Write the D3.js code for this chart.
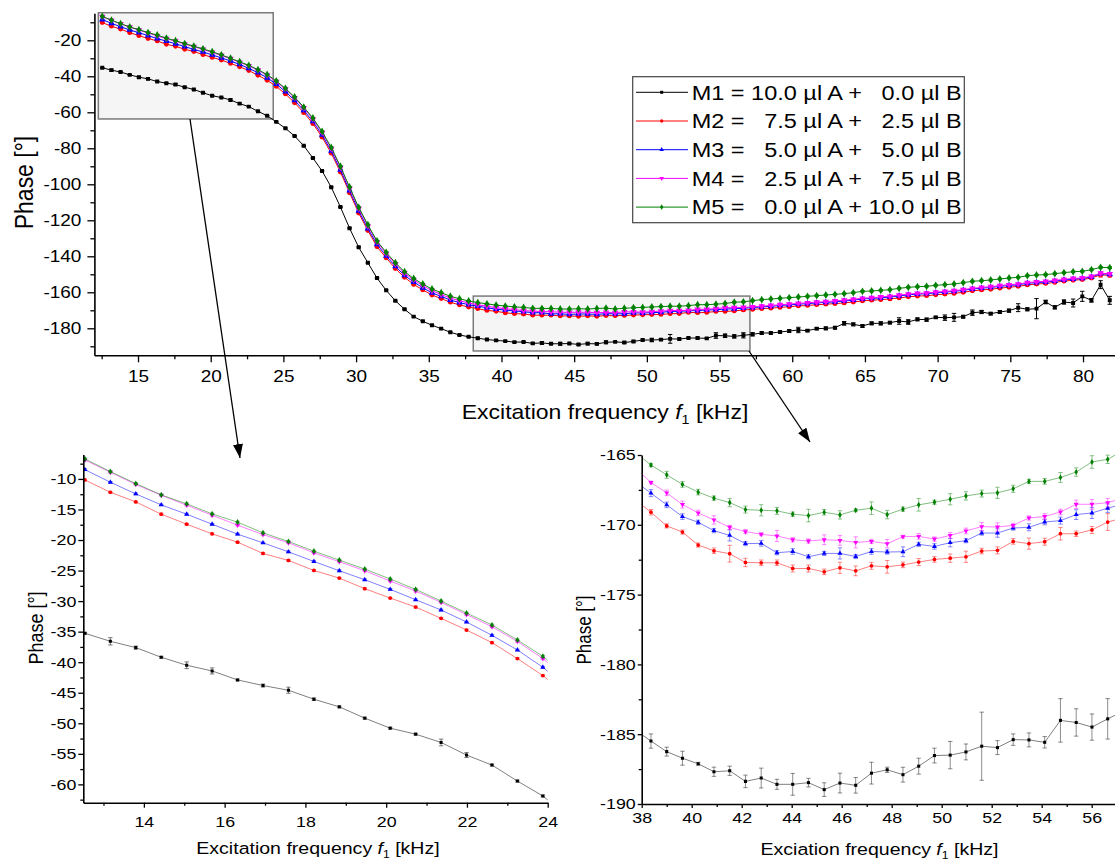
<!DOCTYPE html>
<html>
<head>
<meta charset="utf-8">
<script src="https://cdn.jsdelivr.net/npm/d3@7"></script>
<style>
  body { margin: 0; background: #fff; }
  svg { font-family: Arial, "Liberation Sans", sans-serif; }
</style>
</head>
<body>
<svg id="chart" width="1115" height="861"></svg>
<script>
// excitation frequency f1 [kHz]
var freq = [
  12.54,13.17,13.80,14.43,15.06,15.69,16.32,16.95,17.58,18.21,
  18.84,19.47,20.10,20.73,21.36,21.99,22.62,23.25,23.88,24.51,
  25.14,25.77,26.40,27.03,27.66,28.29,28.92,29.55,30.18,30.81,
  31.44,32.07,32.70,33.33,33.96,34.59,35.22,35.85,36.48,37.11,
  37.74,38.37,39.00,39.63,40.26,40.89,41.52,42.15,42.78,43.41,
  44.04,44.67,45.30,45.93,46.56,47.19,47.82,48.45,49.08,49.71,
  50.34,50.97,51.60,52.23,52.86,53.49,54.12,54.75,55.38,56.01,
  56.64,57.27,57.90,58.53,59.16,59.79,60.42,61.05,61.68,62.31,
  62.94,63.57,64.20,64.83,65.46,66.09,66.72,67.35,67.98,68.61,
  69.24,69.87,70.50,71.13,71.76,72.39,73.02,73.65,74.28,74.91,
  75.54,76.17,76.80,77.43,78.06,78.69,79.32,79.95,80.58,81.21,
  81.84
];

// phase [deg], M1
var m1 = [
  -35.27,-36.58,-37.61,-39.19,-40.50,-41.43,-42.90,-43.82,-44.59,-46.06,
  -47.31,-49.16,-50.80,-51.78,-53.14,-55.20,-56.84,-59.46,-61.90,-65.3,
  -68.9,-73.2,-78.6,-85.4,-92.6,-101.6,-112.6,-124.4,-135.0,-143.6,
  -152.1,-158.9,-164.7,-169.4,-173.5,-176.1,-178.3,-180.2,-182.2,-183.7,
  -184.7,-185.49,-186.25,-186.72,-187.12,-187.69,-187.62,-188.38,-188.14,-188.59,
  -188.59,-188.47,-188.97,-188.50,-188.66,-187.79,-187.55,-187.90,-187.29,-186.53,
  -186.50,-186.27,-185.86,-185.96,-185.39,-185.41,-185.58,-184.01,-184.16,-184.49,
  -183.90,-183.35,-182.61,-182.61,-182.06,-181.50,-180.94,-181.31,-180.20,-180.02,
  -179.65,-177.24,-177.80,-178.72,-177.24,-177.24,-176.87,-175.95,-176.50,-175.02,
  -175.20,-173.91,-174.09,-173.91,-173.54,-171.32,-170.94,-171.87,-170.94,-170.20,
  -168.54,-169.46,-169.09,-165.39,-168.35,-165.39,-165.95,-162.24,-164.46,-155.76,
  -164.46
];
var e1 = [
  0.15,0.60,0.25,0.15,0.55,0.50,0.15,0.25,0.50,0.20,
  0.15,0.15,0.15,0.15,0.55,0.40,0.15,0.15,0.15,0.3,
  0.3,0.3,0.3,0.3,0.3,0.3,0.3,0.3,0.3,0.3,
  0.3,0.3,0.3,0.3,0.3,0.3,0.3,0.3,0.3,0.3,
  0.3,0.51,0.32,0.50,0.10,0.33,0.33,0.45,0.71,0.36,
  0.78,0.31,0.49,0.71,0.56,0.78,0.19,0.53,0.57,0.53,
  0.98,0.57,2.44,0.50,0.41,0.50,0.41,1.56,0.98,0.94,
  1.45,0.9,0.6,0.5,0.6,0.7,1.5,0.6,0.6,0.8,
  0.7,1.0,0.8,0.7,0.8,0.9,0.7,1.8,1.3,0.8,
  0.9,0.6,1.5,2.2,0.7,1.5,0.9,0.7,0.8,0.9,
  2.2,0.8,5.6,1.0,0.9,1.2,2.2,2.8,1.0,2.2,
  2.2
];

// M2
var m2 = [
  -10.16,-12.18,-13.76,-15.77,-17.41,-18.99,-20.35,-22.20,-23.34,-24.98,
  -26.23,-27.97,-29.50,-30.97,-32.82,-34.73,-36.80,-39.41,-42.19,-45.6,
  -49.8,-54.7,-60.2,-66.3,-73.8,-82.7,-93.2,-104.7,-116.0,-125.7,
  -134.7,-140.9,-146.8,-151.7,-155.6,-158.7,-161.5,-163.5,-165.5,-167.0,
  -168.2,-169.10,-170.08,-170.52,-171.45,-171.86,-172.07,-172.70,-172.72,-172.72,
  -173.13,-173.13,-173.37,-173.08,-173.30,-172.94,-173.01,-172.87,-172.67,-172.48,
  -172.39,-172.29,-171.88,-171.83,-171.19,-171.35,-171.21,-170.64,-170.64,-170.37,
  -169.80,-169.5,-169.1,-168.8,-168.4,-168.0,-167.6,-167.3,-166.9,-166.6,
  -166.3,-165.9,-165.4,-164.8,-164.4,-164.1,-163.7,-163.1,-162.5,-162.1,
  -161.9,-161.4,-161.0,-160.6,-160.0,-159.2,-158.7,-158.3,-157.7,-157.2,
  -156.7,-155.9,-155.4,-155.1,-154.5,-153.8,-153.3,-152.9,-152.1,-150.3,
  -150.6
];
var e2 = [
  0.12,0.15,0.12,0.15,0.12,0.15,0.12,0.15,0.12,0.15,
  0.12,0.15,0.12,0.15,0.12,0.15,0.12,0.15,0.12,0.3,
  0.3,0.3,0.3,0.3,0.3,0.3,0.3,0.3,0.3,0.3,
  0.3,0.3,0.3,0.3,0.3,0.3,0.3,0.3,0.3,0.3,
  0.3,0.20,0.15,0.15,0.15,0.20,0.60,0.30,0.20,0.20,
  0.25,0.25,0.20,0.40,0.35,0.25,0.45,0.20,0.25,0.20,
  0.30,0.40,0.20,0.25,0.20,0.40,0.25,0.45,0.20,0.25,
  0.60,0.4,0.4,0.4,0.4,0.5,0.4,0.4,0.4,0.4,
  0.4,0.5,0.4,0.4,0.4,0.4,0.5,0.4,0.4,0.4,
  0.4,0.4,0.5,0.4,0.4,0.4,0.5,0.4,0.4,0.4,
  0.5,0.4,0.6,0.4,0.5,0.4,0.5,0.6,0.5,1.2,
  0.8
];

// M3
var m3 = [
  -8.48,-10.54,-12.45,-14.25,-15.77,-17.41,-19.04,-20.46,-21.93,-23.51,
  -25.03,-26.50,-28.08,-29.77,-31.46,-33.42,-35.60,-38.00,-40.83,-44.3,
  -48.5,-53.4,-59.0,-65.1,-72.6,-81.5,-92.0,-103.5,-114.8,-124.6,
  -133.4,-139.8,-145.6,-150.6,-154.3,-157.5,-160.3,-162.3,-164.3,-165.7,
  -166.9,-167.73,-168.57,-169.41,-169.82,-170.42,-170.76,-171.35,-171.33,-172.00,
  -171.91,-172.29,-172.05,-172.05,-172.27,-171.91,-171.95,-171.93,-171.40,-171.55,
  -171.28,-171.14,-170.59,-170.59,-170.23,-170.18,-169.80,-169.70,-169.27,-169.15,
  -168.81,-168.5,-168.1,-167.8,-167.3,-167.0,-166.6,-166.3,-165.9,-165.6,
  -165.3,-164.8,-164.4,-163.7,-163.4,-163.1,-162.6,-162.0,-161.4,-161.0,
  -160.8,-160.3,-159.9,-159.5,-158.9,-158.2,-157.7,-157.3,-156.7,-156.2,
  -155.8,-155.0,-154.6,-154.3,-153.8,-153.1,-152.7,-152.3,-151.5,-149.6,
  -150.0
];
var e3 = [
  0.15,0.12,0.15,0.12,0.15,0.12,0.15,0.12,0.15,0.12,
  0.15,0.12,0.15,0.12,0.15,0.12,0.15,0.12,0.15,0.3,
  0.3,0.3,0.3,0.3,0.3,0.3,0.3,0.3,0.3,0.3,
  0.3,0.3,0.3,0.3,0.3,0.3,0.3,0.3,0.3,0.3,
  0.3,0.25,0.20,0.20,0.15,0.15,0.40,0.15,0.20,0.15,
  0.20,0.15,0.15,0.40,0.15,0.20,0.15,0.35,0.15,0.20,
  0.30,0.15,0.15,0.30,0.15,0.25,0.20,0.25,0.35,0.40,
  0.30,0.4,0.4,0.4,0.4,0.4,0.5,0.4,0.4,0.4,
  0.4,0.4,0.4,0.5,0.4,0.4,0.4,0.4,0.5,0.4,
  0.4,0.4,0.4,0.4,0.5,0.4,0.4,0.4,0.4,0.4,
  0.5,0.4,0.5,0.4,0.4,0.5,0.4,0.5,0.4,0.6,
  0.5
];

// M4
var m4 = [
  -6.90,-8.90,-10.90,-12.67,-14.30,-15.94,-17.57,-19.10,-20.45,-22.10,
  -23.55,-25.03,-26.72,-28.35,-30.20,-32.20,-34.20,-36.60,-39.40,-43.0,
  -47.1,-52.0,-57.6,-63.8,-71.3,-80.2,-90.7,-102.2,-113.5,-123.3,
  -132.1,-138.5,-144.3,-149.4,-153.1,-156.3,-159.1,-161.2,-163.2,-164.7,
  -165.9,-166.97,-167.71,-168.55,-169.15,-169.65,-170.18,-170.49,-170.68,-170.80,
  -171.07,-171.16,-171.07,-171.12,-171.26,-171.19,-171.35,-170.85,-170.83,-171.02,
  -170.76,-170.44,-170.13,-170.16,-170.04,-169.51,-169.41,-169.08,-168.53,-168.53,
  -168.41,-168.1,-167.7,-167.3,-166.9,-166.5,-166.2,-165.8,-165.5,-165.2,
  -164.8,-164.4,-163.9,-163.3,-163.0,-162.6,-162.2,-161.6,-161.0,-160.6,
  -160.4,-159.9,-159.5,-159.1,-158.5,-157.8,-157.3,-156.9,-156.3,-155.8,
  -155.4,-154.6,-154.2,-153.9,-153.4,-152.8,-152.3,-152.0,-151.1,-149.4,
  -149.7
];
var e4 = [
  0.12,0.15,0.12,0.15,0.12,0.15,0.12,0.15,0.12,0.15,
  0.12,0.15,0.12,0.15,0.12,0.15,0.12,0.15,0.12,0.3,
  0.3,0.3,0.3,0.3,0.3,0.3,0.3,0.3,0.3,0.3,
  0.3,0.3,0.3,0.3,0.3,0.3,0.3,0.3,0.3,0.3,
  0.3,0.10,0.20,0.25,0.20,0.30,0.15,0.15,0.10,0.40,
  0.15,0.15,0.35,0.35,0.40,0.15,0.30,0.10,0.20,0.15,
  0.20,0.20,0.30,0.30,0.15,0.15,0.20,0.20,0.30,0.35,
  0.30,0.4,0.4,0.4,0.4,0.4,0.4,0.5,0.4,0.4,
  0.4,0.4,0.5,0.4,0.4,0.4,0.4,0.4,0.4,0.5,
  0.4,0.4,0.4,0.4,0.4,0.5,0.4,0.4,0.4,0.4,
  0.4,0.5,0.4,0.4,0.5,0.4,0.4,0.4,0.5,0.6,
  0.5
];

// M5
var m5 = [
  -6.73,-8.80,-10.76,-12.61,-14.08,-15.72,-17.08,-18.82,-20.24,-21.82,
  -23.29,-24.76,-26.39,-28.08,-29.99,-31.95,-33.91,-36.36,-39.03,-42.6,
  -46.7,-51.5,-57.1,-63.2,-70.7,-79.5,-90.0,-101.5,-112.8,-122.5,
  -131.5,-137.8,-143.6,-148.6,-152.3,-155.4,-158.2,-160.2,-162.2,-163.6,
  -164.8,-165.72,-166.42,-167.11,-167.66,-168.09,-168.41,-168.91,-168.96,-169.00,
  -169.24,-169.34,-169.10,-169.29,-168.96,-168.81,-169.27,-168.88,-168.57,-168.38,
  -168.17,-167.93,-167.76,-167.71,-167.42,-166.89,-166.89,-166.61,-166.22,-165.50,
  -165.31,-164.65,-164.09,-163.72,-163.35,-162.98,-162.61,-162.24,-161.87,-161.50,
  -161.13,-160.76,-160.20,-159.46,-159.28,-158.91,-158.54,-157.80,-157.24,-156.87,
  -156.69,-156.13,-155.76,-155.39,-154.65,-153.91,-153.54,-153.17,-152.61,-152.06,
  -151.69,-150.76,-150.39,-150.20,-149.65,-149.09,-148.54,-148.35,-147.43,-146.13,
  -146.32
];
var e5 = [
  0.15,0.12,0.15,0.10,0.15,0.12,0.15,0.12,0.15,0.12,
  0.15,0.12,0.15,0.12,0.15,0.12,0.15,0.15,0.15,0.3,
  0.3,0.3,0.3,0.3,0.3,0.3,0.3,0.3,0.3,0.3,
  0.3,0.3,0.3,0.3,0.3,0.3,0.3,0.3,0.3,0.3,
  0.3,0.10,0.25,0.20,0.20,0.15,0.30,0.25,0.40,0.25,
  0.15,0.45,0.20,0.30,0.10,0.45,0.30,0.15,0.45,0.15,
  0.40,0.30,0.25,0.40,0.25,0.15,0.20,0.35,0.30,0.45,
  0.30,0.4,0.4,0.4,0.4,0.4,0.4,0.4,0.5,0.4,
  0.4,0.4,0.4,0.4,0.5,0.4,0.4,0.4,0.4,0.4,
  0.4,0.5,0.4,0.4,0.4,0.4,0.4,0.5,0.4,0.4,
  0.4,0.4,0.4,0.5,0.4,0.4,0.4,0.4,0.5,0.5,
  0.5
];

var legendLabels = [
  "M1 = 10.0 µl A +   0.0 µl B",
  "M2 =   7.5 µl A +   2.5 µl B",
  "M3 =   5.0 µl A +   5.0 µl B",
  "M4 =   2.5 µl A +   7.5 µl B",
  "M5 =   0.0 µl A + 10.0 µl B"
];
var seriesColors = ["#000000", "#ff0000", "#0000ff", "#ff00ff", "#008000"];

// tick values
var mainXTicks = [15, 20, 25, 30, 35, 40, 45, 50, 55, 60, 65, 70, 75, 80];
var mainXMinor = [12.5, 17.5, 22.5, 27.5, 32.5, 37.5, 42.5, 47.5, 52.5, 57.5, 62.5, 67.5, 72.5, 77.5];
var mainYTicks = [-180, -160, -140, -120, -100, -80, -60, -40, -20];
var mainYMinor = [-190, -170, -150, -130, -110, -90, -70, -50, -30, -10];
var leftXTicks = [14, 16, 18, 20, 22, 24];
var leftXMinor = [13, 15, 17, 19, 21, 23];
var leftYTicks = [-60, -55, -50, -45, -40, -35, -30, -25, -20, -15, -10];
var leftYMinor = [-62.5, -57.5, -52.5, -47.5, -42.5, -37.5, -32.5, -27.5, -22.5, -17.5, -12.5, -7.5];
var rightXTicks = [38, 40, 42, 44, 46, 48, 50, 52, 54, 56];
var rightXMinor = [39, 41, 43, 45, 47, 49, 51, 53, 55, 57];
var rightYTicks = [-190, -185, -180, -175, -170, -165];
var rightYMinor = [-187.5, -182.5, -177.5, -172.5, -167.5];

// zoom windows drawn on the main plot, in data units
var zoomBox1 = { x: [12.27, 24.3], y: [-63.7, -4.7] };
var zoomBox2 = { x: [38.06, 57.09], y: [-192.6, -162.1] };

var svg = d3.select("#chart");
var textStretch = 1.15;
var font = "Arial, 'Liberation Sans', sans-serif";

var series = [
  { values: m1, errors: e1, color: seriesColors[0], symbol: d3.symbolSquare, flip: false },
  { values: m2, errors: e2, color: seriesColors[1], symbol: d3.symbolCircle, flip: false },
  { values: m3, errors: e3, color: seriesColors[2], symbol: d3.symbolTriangle, flip: false },
  { values: m4, errors: e4, color: seriesColors[3], symbol: d3.symbolTriangle, flip: true },
  { values: m5, errors: e5, color: seriesColors[4], symbol: d3.symbolDiamond, flip: false }
];

var defs = svg.append("defs");
defs.append("marker")
  .attr("id", "arrowhead")
  .attr("markerUnits", "userSpaceOnUse")
  .attr("viewBox", "0 0 14 10")
  .attr("refX", 14).attr("refY", 5)
  .attr("markerWidth", 14).attr("markerHeight", 10)
  .attr("orient", "auto")
  .append("path")
  .attr("d", "M0,0L14,5L0,10Z")
  .attr("fill", "#000");

// plain hyphen for negatives, like the original
var plainNumber = function(d) { return String(d); };

function drawPanel(p) {
  var x = d3.scaleLinear().domain(p.xDomain).range([p.left, p.right]);
  var y = d3.scaleLinear().domain(p.yDomain).range([p.bottom, p.top]);
  var g = svg.append("g");

  defs.append("clipPath").attr("id", "clip-" + p.id)
    .append("rect")
    .attr("x", p.left).attr("y", p.top - 3)
    .attr("width", p.right - p.left).attr("height", p.bottom - p.top + 3);

  if (p.boxes) {
    p.boxes.forEach(function(b) {
      g.append("rect")
        .attr("x", x(b.x[0])).attr("y", y(b.y[1]))
        .attr("width", x(b.x[1]) - x(b.x[0]))
        .attr("height", y(b.y[0]) - y(b.y[1]))
        .attr("fill", "#f5f5f5")
        .attr("stroke", "#7a7a7a")
        .attr("stroke-width", 1.5);
    });
  }

  var plot = g.append("g").attr("clip-path", "url(#clip-" + p.id + ")");
  var line = d3.line().x(function(d) { return x(d.f); }).y(function(d) { return y(d.v); });

  series.forEach(function(s) {
    var pts = freq.map(function(f, i) { return { f: f, v: s.values[i], e: s.errors[i] }; });
    var inside = pts.filter(function(d) { return d.f >= p.xDomain[0] && d.f <= p.xDomain[1]; });

    plot.append("path")
      .datum(pts)
      .attr("fill", "none")
      .attr("stroke", s.color)
      .attr("stroke-width", 1)
      .attr("stroke-opacity", p.lineOpacity)
      .attr("d", line);

    plot.append("g")
      .attr("stroke", s.color)
      .attr("stroke-opacity", p.errOpacity)
      .attr("stroke-width", 1)
      .attr("fill", "none")
      .selectAll("path")
      .data(inside)
      .join("path")
      .attr("d", function(d) {
        var cx = x(d.f), y1 = y(d.v - d.e), y2 = y(d.v + d.e), w = p.cap;
        return "M" + cx + "," + y1 + "V" + y2 +
          "M" + (cx - w) + "," + y1 + "H" + (cx + w) +
          "M" + (cx - w) + "," + y2 + "H" + (cx + w);
      });

    plot.append("g")
      .selectAll("path")
      .data(inside)
      .join("path")
      .attr("transform", function(d) {
        return "translate(" + x(d.f) + "," + y(d.v) + ")" + (s.flip ? " rotate(180)" : "");
      })
      .attr("d", d3.symbol(s.symbol, s.symbol === d3.symbolSquare ? p.markerSize * 0.85 : p.markerSize))
      .attr("fill", s.color);
  });

  // axes
  var gx = g.append("g").attr("transform", "translate(0," + p.bottom + ")")
    .call(d3.axisBottom(x).tickValues(p.xTicks).tickFormat(plainNumber)
      .tickSize(p.major).tickPadding(p.xPad).tickSizeOuter(0));
  var gxm = g.append("g").attr("transform", "translate(0," + p.bottom + ")")
    .call(d3.axisBottom(x).tickValues(p.xMinor.filter(function(v) { return v >= p.xDomain[0] && v <= p.xDomain[1]; }))
      .tickSize(p.minor).tickFormat("").tickSizeOuter(0));
  gxm.select(".domain").remove();

  var gy = g.append("g").attr("transform", "translate(" + p.left + ",0)")
    .call(d3.axisLeft(y).tickValues(p.yTicks).tickFormat(plainNumber)
      .tickSize(p.major).tickPadding(p.yPad).tickSizeOuter(0));
  var gym = g.append("g").attr("transform", "translate(" + p.left + ",0)")
    .call(d3.axisLeft(y).tickValues(p.yMinor).tickSize(p.minor).tickFormat("").tickSizeOuter(0));
  gym.select(".domain").remove();

  [gx, gxm, gy, gym].forEach(function(a) {
    a.attr("font-size", p.tickFont).attr("font-family", font);
    a.selectAll("line").attr("stroke-width", 1.3);
    a.select(".domain").attr("stroke-width", 1.6);
  });

  // titles
  var xt = g.append("text")
    .attr("class", "stretch")
    .attr("x", p.xTitle[0]).attr("y", p.xTitle[1])
    .attr("text-anchor", "middle")
    .attr("font-size", p.xTitleFont);
  xt.append("tspan").text(p.xTitleText);
  xt.append("tspan").attr("font-style", "italic").text("f");
  xt.append("tspan").attr("font-size", p.xTitleFont * 0.62).attr("dy", p.xTitleFont * 0.25).text("1");
  xt.append("tspan").attr("dy", -p.xTitleFont * 0.25).text(" [kHz]");

  g.append("text")
    .attr("transform", "translate(" + p.yTitle[0] + "," + p.yTitle[1] + ") scale(" + textStretch + ",1) rotate(-90)")
    .attr("text-anchor", "middle")
    .attr("font-size", p.yTitleFont)
    .text("Phase [°]");

  return { x: x, y: y };
}

drawPanel({
  id: "main", left: 94.4, right: 1115, top: 13.3, bottom: 355.3,
  xDomain: [12, 82.2], yDomain: [-195, -5],
  xTicks: mainXTicks, xMinor: mainXMinor, yTicks: mainYTicks, yMinor: mainYMinor,
  major: 7, minor: 4, xPad: 8, yPad: 6, tickFont: 16.5,
  lineOpacity: 1, errOpacity: 1, cap: 2.2, markerSize: 18,
  boxes: [zoomBox1, zoomBox2],
  xTitle: [605, 419], xTitleFont: 20, xTitleText: "Excitation frequency ",
  yTitle: [33, 182.5], yTitleFont: 23
});

drawPanel({
  id: "left", left: 83.3, right: 547.7, top: 454.5, bottom: 802.7,
  xDomain: [12.5, 24], yDomain: [-63, -6],
  xTicks: leftXTicks, xMinor: leftXMinor, yTicks: leftYTicks, yMinor: leftYMinor,
  major: 5, minor: 3, xPad: 8, yPad: 2, tickFont: 15.5,
  lineOpacity: 0.5, errOpacity: 0.5, cap: 2.2, markerSize: 11,
  xTitle: [318, 854], xTitleFont: 17, xTitleText: "Excitation frequency ",
  yTitle: [43, 628], yTitleFont: 18
});

drawPanel({
  id: "right", left: 641.7, right: 1116.7, top: 455, bottom: 804,
  xDomain: [38, 57], yDomain: [-190, -165],
  xTicks: rightXTicks, xMinor: rightXMinor, yTicks: rightYTicks, yMinor: rightYMinor,
  major: 4, minor: 3, xPad: 4, yPad: 2, tickFont: 15.5,
  lineOpacity: 0.5, errOpacity: 0.45, cap: 2.2, markerSize: 11,
  xTitle: [879.5, 855], xTitleFont: 17, xTitleText: "Exciation frequency ",
  yTitle: [590.5, 630], yTitleFont: 17
});

// arrows from zoom windows to insets
var arrows = [
  { from: [190, 119], to: [240, 458] },
  { from: [749, 351], to: [810, 442] }
];
svg.append("g").selectAll("line")
  .data(arrows)
  .join("line")
  .attr("x1", function(d) { return d.from[0]; })
  .attr("y1", function(d) { return d.from[1]; })
  .attr("x2", function(d) { return d.to[0]; })
  .attr("y2", function(d) { return d.to[1]; })
  .attr("stroke", "#000")
  .attr("stroke-width", 1.3)
  .attr("marker-end", "url(#arrowhead)");

// legend
var legend = svg.append("g");
legend.append("rect")
  .attr("x", 632.7).attr("y", 76.7)
  .attr("width", 331.6).attr("height", 146)
  .attr("fill", "#fff")
  .attr("stroke", "#444")
  .attr("stroke-width", 1.2);

var rows = legend.selectAll(".legendRow")
  .data(series)
  .enter()
  .append("g")
  .attr("class", "legendRow")
  .attr("transform", function(d, i) { return "translate(0," + (92.3 + i * 28.7) + ")"; });

rows.append("line")
  .attr("x1", 636).attr("x2", 688)
  .attr("stroke", function(d) { return d.color; })
  .attr("stroke-width", 1);
rows.append("path")
  .attr("transform", function(d) { return "translate(661.7,0)" + (d.flip ? " rotate(180)" : ""); })
  .attr("d", function(d) { return d3.symbol(d.symbol, 9)(); })
  .attr("fill", function(d) { return d.color; });
rows.append("text")
  .attr("class", "stretch")
  .attr("x", 691.7).attr("y", 7.3)
  .attr("font-size", 20.3)
  .attr("textLength", 270)
  .attr("lengthAdjust", "spacingAndGlyphs")
  .style("white-space", "pre")
  .text(function(d, i) { return legendLabels[i]; });

// the reference glyphs are a little wider than tall
svg.selectAll(".tick text, text.stretch").each(function() {
  var t = d3.select(this);
  if (t.attr("textLength")) return;
  var x0 = +(t.attr("x") || 0);
  t.attr("transform", "translate(" + (x0 * (1 - textStretch)) + ",0) scale(" + textStretch + ",1)");
});
</script>
</body>
</html>
